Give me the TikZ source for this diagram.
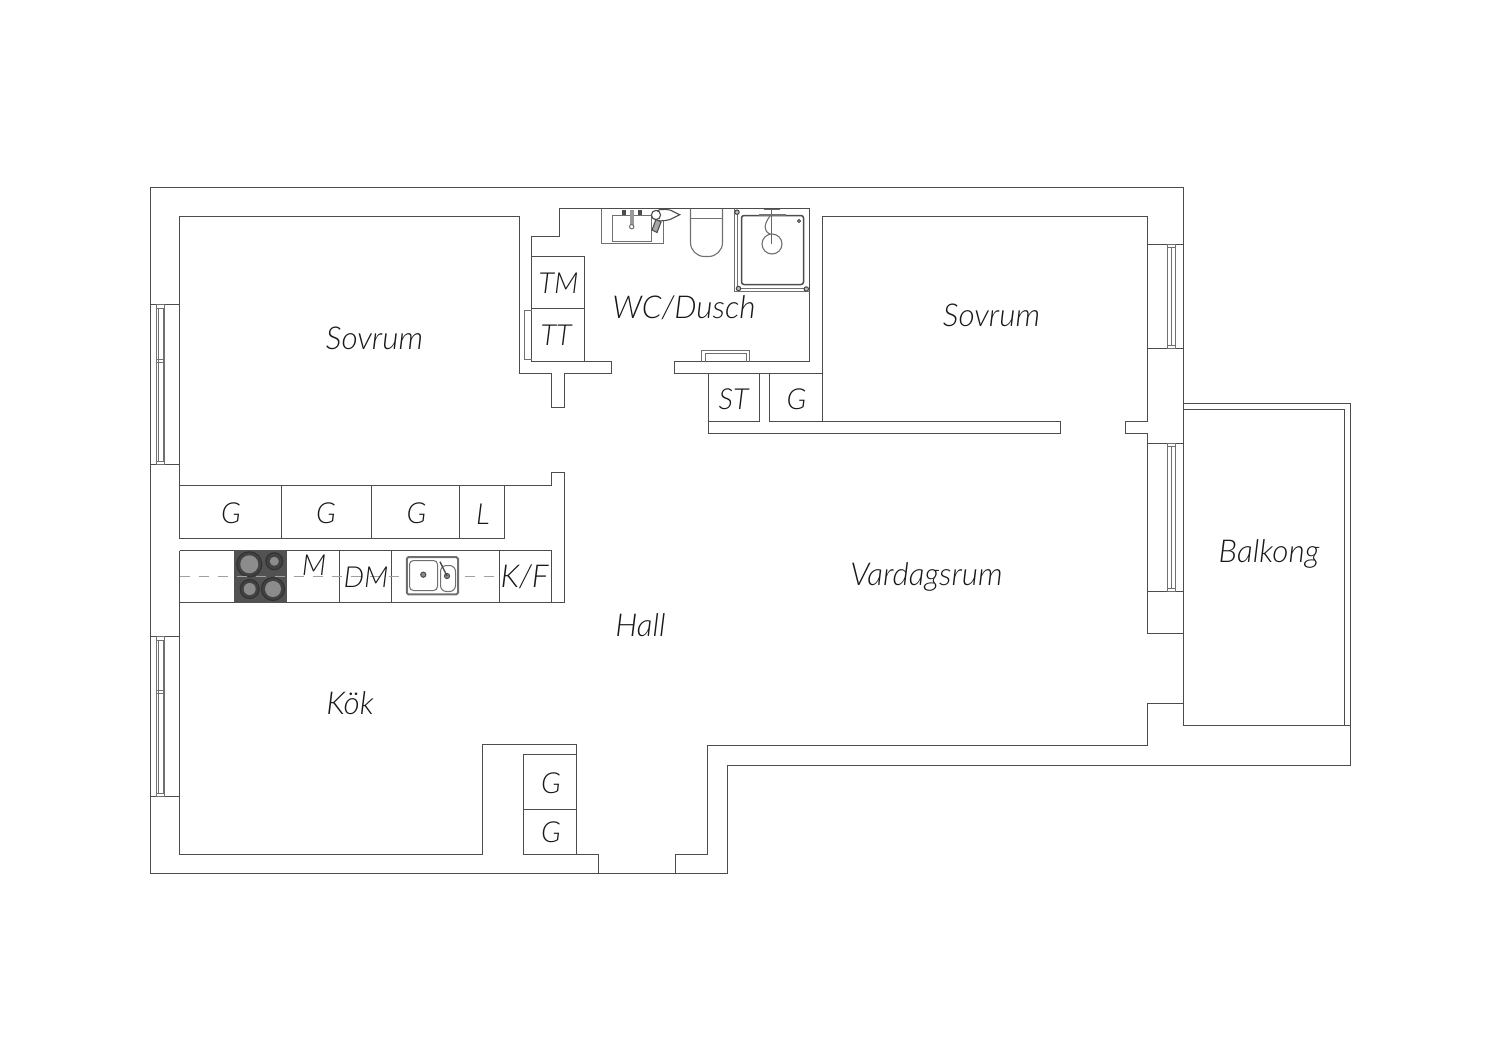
\documentclass[tikz,border=0pt]{standalone}
\usepackage{fontspec}
\setmainfont{Lato}[UprightFont=* Light,ItalicFont=* Light Italic]
\definecolor{wallc}{HTML}{4C4C4C}
\definecolor{thinc}{HTML}{707070}
\definecolor{hobc}{HTML}{525252}
\definecolor{ringc}{HTML}{8C8C8C}
\definecolor{dashc}{HTML}{A0A0A0}
\tikzset{
  wl/.style={draw=wallc,line width=1.5pt,line join=miter},
  th/.style={draw=thinc,line width=1.1pt},
  lbl/.style={font=\fontsize{31.5}{34}\selectfont\itshape,text=black!90,inner sep=0pt,anchor=center},
  sm/.style={font=\fontsize{29}{32}\selectfont\itshape,text=black!90,inner sep=0pt,anchor=center},
}
\begin{document}
\begin{tikzpicture}[x=1pt,y=-1pt]
\useasboundingbox (0,0) rectangle (1500,1060);
% outer shell with balcony
\draw[wl] (150.5,187.5) -- (1183.5,187.5) -- (1183.5,725.5) -- (1350.5,725.5) -- (1350.5,765.5) -- (727.5,765.5) -- (727.5,873.5) -- (150.5,873.5) -- cycle;
\draw[wl] (1183.5,403.5) -- (1350.5,403.5) -- (1350.5,725.5);
\draw[wl] (1183.5,409.5) -- (1344.5,409.5) -- (1344.5,725.5);
% left bedroom + bath outline
\draw[wl] (179.5,538.5) -- (179.5,216.5) -- (519.5,216.5) -- (519.5,373.5) -- (551.5,373.5) -- (551.5,407.5) -- (564.5,407.5) -- (564.5,373.5) -- (611.5,373.5) -- (611.5,361.5) -- (531.5,361.5) -- (531.5,236.5) -- (559.5,236.5) -- (559.5,208.5) -- (809.5,208.5) -- (809.5,361.5) -- (674.5,361.5) -- (674.5,373.5) -- (822.5,373.5);
% right bedroom
\draw[wl] (822.5,421.5) -- (822.5,216.5) -- (1147.5,216.5) -- (1147.5,421.5) -- (1125.5,421.5) -- (1125.5,433.5) -- (1147.5,433.5) -- (1147.5,633.5) -- (1183.5,633.5);
\draw[wl] (1183.5,703.5) -- (1147.5,703.5) -- (1147.5,745.5) -- (707.5,745.5) -- (707.5,854.5) -- (675.5,854.5) -- (675.5,873.5);
% wall stub below ST/G
\draw[wl] (708.5,373.5) -- (708.5,433.5) -- (1060.5,433.5) -- (1060.5,421.5) -- (769.5,421.5) -- (769.5,373.5);
\draw[wl] (708.5,421.5) -- (759.5,421.5) -- (759.5,373.5);
% kitchen/hall lower
\draw[wl] (179.5,550.5) -- (179.5,854.5) -- (482.5,854.5) -- (482.5,744.5) -- (576.5,744.5) -- (576.5,854.5) -- (598.5,854.5) -- (598.5,873.5);
\draw[wl] (523.5,854.5) -- (576.5,854.5);
\draw[wl] (576.5,754.5) -- (523.5,754.5) -- (523.5,854.5);
\draw[wl] (523.5,809.5) -- (576.5,809.5);
% kitchen fittings
\draw[wl] (179.5,485.5) -- (551.5,485.5) -- (551.5,472.5) -- (564.5,472.5) -- (564.5,602.5) -- (179.5,602.5);
\draw[wl] (179.5,538.5) -- (504.5,538.5) -- (504.5,485.5);
\foreach \x in {281.5,371.5,459.5} \draw[wl] (\x,485.5) -- (\x,538.5);
\draw[wl] (179.5,550.5) -- (551.5,550.5) -- (551.5,602.5);
\foreach \x in {339.5,391.5,499.5} \draw[wl] (\x,550.5) -- (\x,602.5);
% hob
\fill[hobc] (234,550) rectangle (287,603);
\foreach \cx/\cy/\ro/\ri in {249.3/564.3/12.5/9,274.3/561.3/8.5/4.5,249.7/589/9.5/6,273/589/11.5/8}{
  \draw[black!80,fill=hobc!80!black,line width=1.2pt] (\cx,\cy) circle (\ro);
  \fill[ringc] (\cx,\cy) circle (\ri);
}
% dashed centre line
\draw[dashc,line width=1.4pt,dash pattern=on 10pt off 9pt] (179.5,576.5) -- (499.5,576.5);
% sink
\draw[draw=thinc,fill=white,line width=2pt,rounded corners=1.5pt] (406.8,557.2) rectangle (458,594.3);
\draw[thinc,line width=1pt,rounded corners=4pt] (409.5,560.5) rectangle (437.5,590.5);
\draw[thinc,line width=1pt,rounded corners=6pt] (440.5,565.5) rectangle (455.5,591.5);
\draw[black!70,fill=black!45,line width=1pt] (423.3,574.7) circle (2.6);
\draw[black!70,fill=black!45,line width=1pt] (447,576) circle (2.6);
\draw[black!70,line width=1.4pt] (440,561.7) -- (447,576);
% bath: washing machine boxes
\draw[wl] (531.5,256.5) -- (584.5,256.5) -- (584.5,361.5);
\draw[wl] (531.5,308.5) -- (584.5,308.5);
\draw[th] (531.5,310.5) -- (524.5,310.5) -- (524.5,359.5) -- (531.5,359.5);
% door detail
\draw[th] (701.5,361.5) -- (701.5,350.5) -- (749.5,350.5) -- (749.5,361.5);
\draw[th] (705.5,361.5) -- (705.5,353.5) -- (746.5,353.5) -- (746.5,361.5);
% vanity
\draw[th] (601.5,208.5) -- (601.5,243.5) -- (663.5,243.5) -- (663.5,208.5);
\draw[th] (612.5,215.5) rectangle (651.5,241.5);
\fill[black!70] (621.7,209.5) rectangle (626.3,214.7);
\fill[black!70] (637.7,209.5) rectangle (642.3,214.7);
\fill[black!40] (630,209.5) rectangle (633.6,226);
\draw[thinc,fill=white,line width=1pt] (631.7,226.7) circle (2.2);
\draw[wl,fill=white,line width=1.1pt] (652,216) .. controls (655,208) and (664,209) .. (670,210) -- (679.7,214.7) -- (670,219.5) .. controls (664,221) and (655,223) .. (652,216) -- cycle;
\draw[wl,fill=white,line width=1.1pt] (656,215) circle (4.6);
\draw[wl,fill=black!35,line width=1.1pt] (656,219.5) -- (661,222) -- (657,232.5) -- (652,230) -- cycle;
% toilet
\draw[th,rounded corners=14pt] (690.5,208.5) -- (690.5,256.5) -- (722.5,256.5) -- (722.5,208.5);
\draw[th] (690.5,218.5) -- (722.5,218.5);
% shower
\draw[th] (734.5,208.5) -- (734.5,291.5) -- (809.5,291.5);
\draw[th] (737.5,212) -- (737.5,288.5) -- (806,288.5);
\draw[wl,rounded corners=2.5pt] (741.5,215.5) rectangle (803.5,284.5);
\foreach \cx/\cy in {737/212.2,738.5/288.5,806.3/289}
  \draw[black!75,fill=black!25,line width=1pt] (\cx,\cy) circle (2.2);
\draw[black!75,fill=black!40,line width=.8pt] (799,221) circle (1.6);
\draw[th,line width=1.1pt] (772,244) circle (10);
\draw[black!55,line width=2.2pt] (759,215.3) -- (785.7,215.3);
\draw[black!60,line width=1.8pt] (771.5,209) -- (771.5,244);
\draw[black!60,line width=.9pt] (764,209.5) -- (780,209.5);
\draw[th] (770,216) .. controls (764,224) and (763,231) .. (770,234);
% left windows
\draw[wl,line width=1.2pt] (151,304.5) -- (179,304.5) (151,464.5) -- (179,464.5);
\draw[wl,line width=1.2pt] (151,636.5) -- (179,636.5) (151,796.5) -- (179,796.5);
\foreach \a/\m/\b in {304.5/360.5/464.5,636.5/691.5/796.5}{
  \draw[th,line width=.9pt] (156.2,\a) rectangle (164.7,\b);
  \draw[th,line width=.8pt] (158,\a+3) -- (158,\b-3) (163,\a+3) -- (163,\b-3);
  \draw[th,line width=.8pt] (156.2,\a+3.5) -- (164.7,\a+3.5) (156.2,\b-3.5) -- (164.7,\b-3.5);
  \draw[th,line width=.8pt] (156.2,\m-1.5) -- (164.7,\m-1.5) (156.2,\m+1.5) -- (164.7,\m+1.5);
}
% right windows
\foreach \a/\b in {244.5/348.5,443.5/591.5}{
  \draw[wl,line width=1.2pt] (1147,\a) -- (1183.5,\a) (1147,\b) -- (1183.5,\b);
  \draw[th,line width=.9pt] (1167.7,\a) rectangle (1175.7,\b);
  \draw[th,line width=.8pt] (1171.3,\a+3) -- (1171.3,\b-3);
  \draw[th,line width=.8pt] (1167.7,\a+3) -- (1175.7,\a+3) (1167.7,\b-3) -- (1175.7,\b-3);
}
% labels
\node[lbl] (r1) at (374.5,338) {Sovrum};
\node[lbl] (r2) at (991.5,315) {Sovrum};
\node[lbl] (r3) at (684,308) {WC/Dusch};
\node[lbl] (r4) at (926.5,577) {Vardagsrum};
\node[lbl] (r5) at (640.5,625) {Hall};
\node[lbl] (r6) at (350,703) {Kök};
\node[lbl] (r7) at (1269,554) {Balkong};
\node[sm] (a1) at (558.5,283) {TM};
\node[sm] (a2) at (556,335) {TT};
\node[sm] (a3) at (733.5,399) {ST};
\node[sm] (a4) at (796.5,399) {G};
\node[sm] (a5) at (231,513) {G};
\node[sm] (a6) at (326,513) {G};
\node[sm] (a7) at (416.5,513) {G};
\node[sm] (a8) at (483,514) {L};
\node[sm] (a9) at (314,565) {M};
\node[sm] (a10) at (366,577) {DM};
\node[lbl] (a11) at (524.5,577) {K/F};
\node[sm] (a12) at (551,783) {G};
\node[sm] (a13) at (551,832) {G};
\end{tikzpicture}
\end{document}
